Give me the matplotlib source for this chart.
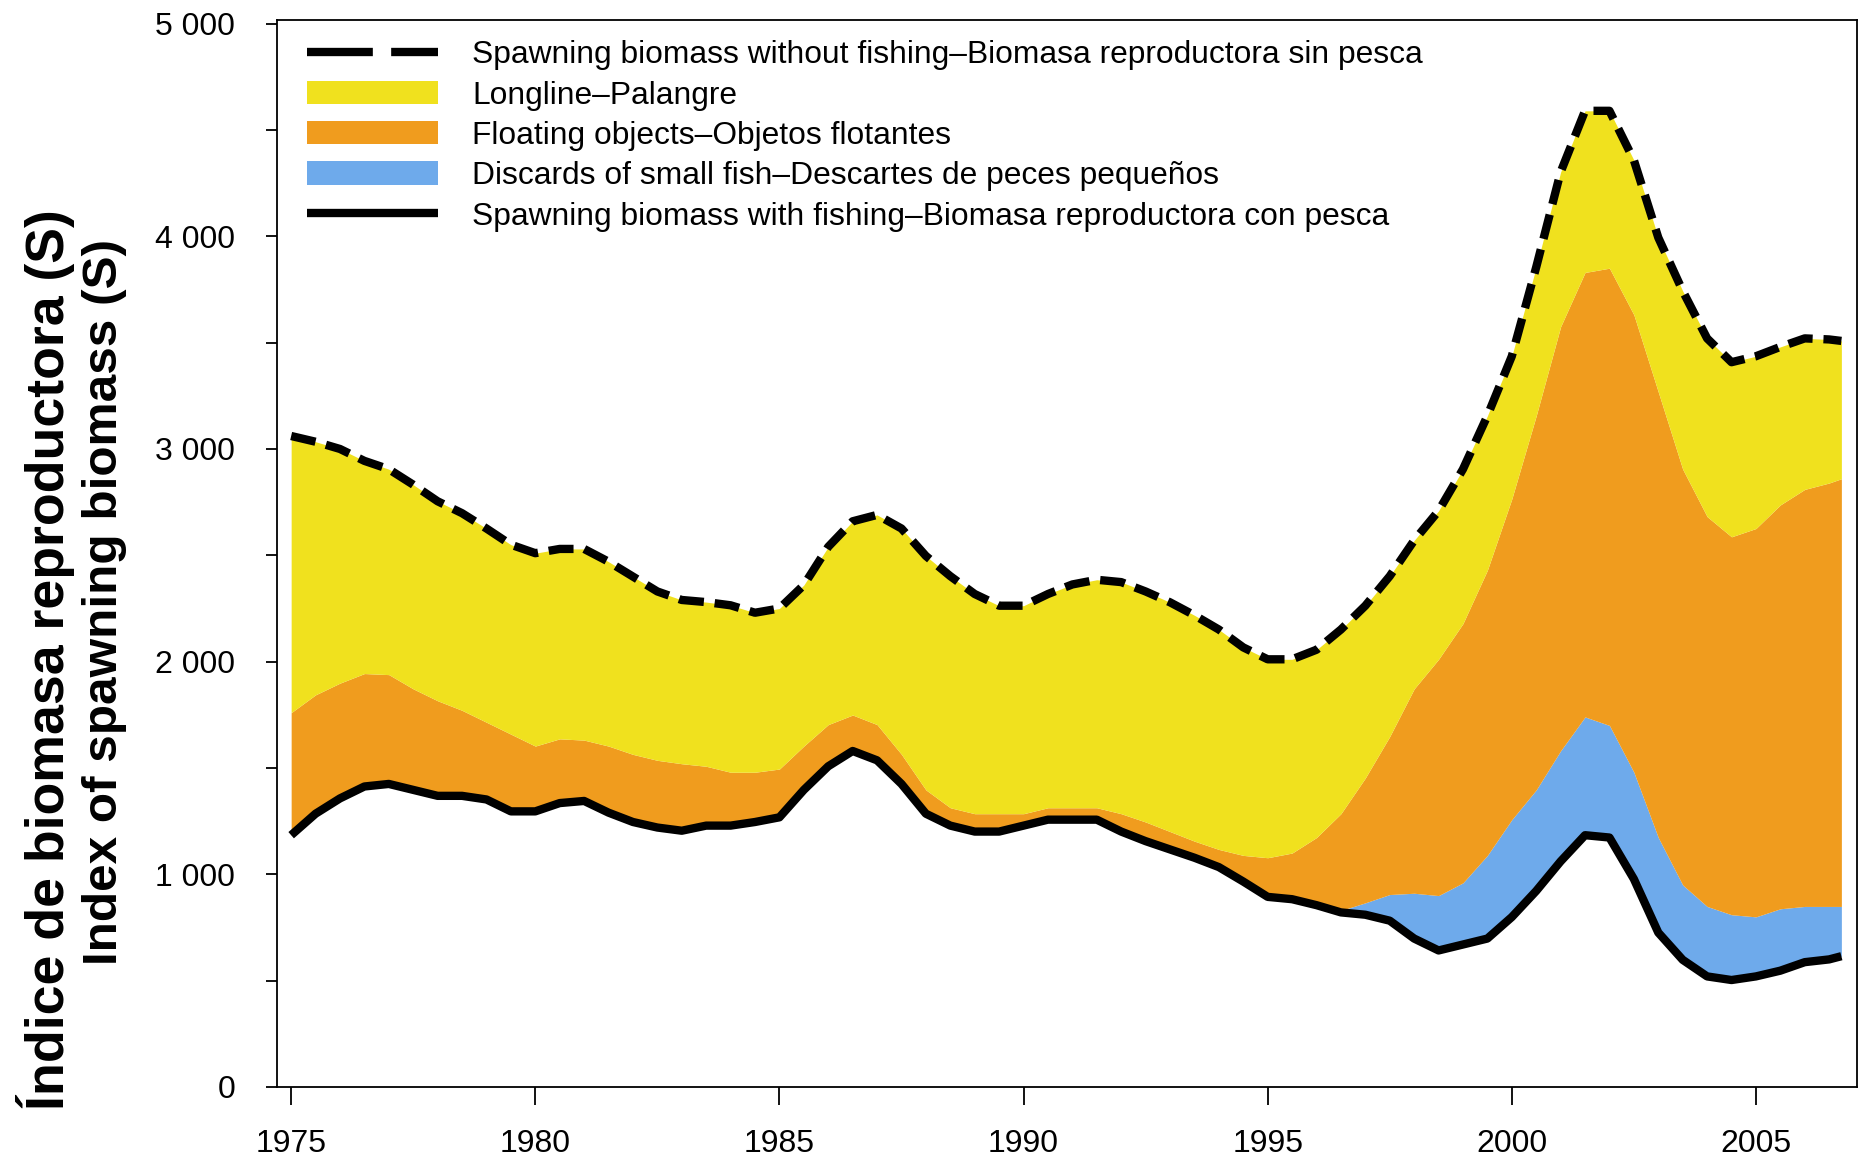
import numpy as np
import matplotlib
matplotlib.use("Agg")
import matplotlib.pyplot as plt
from matplotlib.lines import Line2D
from matplotlib.patches import Patch

# ---------------- data ----------------
years = [1975.0, 1975.5, 1976.0, 1976.5, 1977.0, 1977.5, 1978.0, 1978.5, 1979.0, 1979.5,
         1980.0, 1980.5, 1981.0, 1981.5, 1982.0, 1982.5, 1983.0, 1983.5, 1984.0, 1984.5,
         1985.0, 1985.5, 1986.0, 1986.5, 1987.0, 1987.5, 1988.0, 1988.5, 1989.0, 1989.5,
         1990.0, 1990.5, 1991.0, 1991.5, 1992.0, 1992.5, 1993.0, 1993.5, 1994.0, 1994.5,
         1995.0, 1995.5, 1996.0, 1996.5, 1997.0, 1997.5, 1998.0, 1998.5, 1999.0, 1999.5,
         2000.0, 2000.5, 2001.0, 2001.5, 2002.0, 2002.5, 2003.0, 2003.5, 2004.0, 2004.5,
         2005.0, 2005.5, 2006.0, 2006.5, 2006.75]

# spawning biomass with fishing (solid black line)
s_with_fishing = [1184, 1285, 1357, 1413, 1425, 1397, 1369, 1369, 1352, 1296,
                  1296, 1335, 1345, 1290, 1246, 1220, 1205, 1229, 1229, 1246,
                  1268, 1397, 1508, 1580, 1536, 1425, 1285, 1229, 1201, 1201,
                  1229, 1257, 1257, 1257, 1201, 1156, 1117, 1078, 1034, 966,
                  894, 883, 855, 821, 810, 782, 698, 642, 670, 698,
                  799, 922, 1061, 1184, 1173, 978, 726, 598, 520, 503,
                  520, 547, 587, 600, 615]

# upper edge of the discards (blue) band
top_discards = [1184, 1285, 1357, 1413, 1425, 1397, 1369, 1369, 1352, 1296,
                1296, 1335, 1345, 1290, 1246, 1220, 1205, 1229, 1229, 1246,
                1268, 1397, 1508, 1580, 1536, 1425, 1285, 1229, 1201, 1201,
                1229, 1257, 1257, 1257, 1201, 1156, 1117, 1078, 1034, 966,
                894, 883, 855, 830, 866, 905, 911, 900, 960, 1089,
                1257, 1397, 1581, 1740, 1700, 1480, 1173, 950, 849, 810,
                800, 838, 849, 849, 849]

# upper edge of the floating-object (orange) band
top_floating = [1760, 1844, 1899, 1944, 1939, 1872, 1816, 1771, 1715, 1659,
                1603, 1637, 1631, 1603, 1564, 1536, 1520, 1508, 1480, 1480,
                1495, 1603, 1704, 1749, 1704, 1564, 1397, 1313, 1285, 1285,
                1285, 1313, 1313, 1313, 1285, 1246, 1201, 1156, 1117, 1089,
                1078, 1100, 1173, 1285, 1453, 1648, 1872, 2011, 2179, 2430,
                2765, 3156, 3575, 3830, 3850, 3631, 3268, 2905, 2682, 2587,
                2626, 2737, 2810, 2840, 2860]

# spawning biomass without fishing (dashed line = top of longline band)
s_without_fishing = [3061, 3034, 3000, 2944, 2905, 2832, 2754, 2698, 2626, 2550,
                     2510, 2530, 2530, 2470, 2400, 2330, 2290, 2280, 2265, 2230,
                     2250, 2360, 2540, 2660, 2690, 2626, 2497, 2402, 2318, 2263,
                     2263, 2318, 2363, 2385, 2374, 2330, 2279, 2218, 2151, 2067,
                     2011, 2011, 2056, 2151, 2263, 2402, 2570, 2709, 2905, 3156,
                     3436, 3855, 4302, 4590, 4590, 4358, 3994, 3743, 3520, 3408,
                     3436, 3480, 3520, 3515, 3508]

x_ticks = [1975, 1980, 1985, 1990, 1995, 2000, 2005]
y_ticks = [0, 500, 1000, 1500, 2000, 2500, 3000, 3500, 4000, 4500, 5000]
y_ticklabels = ["0", "", "1 000", "", "2 000", "", "3 000", "", "4 000", "", "5 000"]

legend_labels = [
    "Spawning biomass without fishing\u2013Biomasa reproductora sin pesca",
    "Longline\u2013Palangre",
    "Floating objects\u2013Objetos flotantes",
    "Discards of small fish\u2013Descartes de peces peque\u00f1os",
    "Spawning biomass with fishing\u2013Biomasa reproductora con pesca",
]
ylabel_lines = ["\u00cdndice de biomasa reproductora (S)", "Index of spawning biomass (S)"]

# ---------------- styling ----------------
C_YELLOW = "#F0E11E"
C_ORANGE = "#F09C1E"
C_BLUE = "#6EAAEB"
FONT = "Liberation Sans"

W, H = 1866, 1164
fig = plt.figure(figsize=(W / 100, H / 100), dpi=100)
fig.patch.set_facecolor("white")
ax = fig.add_axes([277 / W, 1 - 1087 / H, (1857 - 277) / W, (1087 - 20) / H])


def fit_size(text, target_px, **kw):
    r = fig.canvas.get_renderer()
    t = fig.text(0, 0, text, fontsize=20, **kw)
    w = t.get_window_extent(r).width
    t.remove()
    return 20 * target_px / w


x = np.array(years)
ax.fill_between(x, s_with_fishing, top_discards, color=C_BLUE, lw=0)
ax.fill_between(x, top_discards, top_floating, color=C_ORANGE, lw=0)
ax.fill_between(x, top_floating, s_without_fishing, color=C_YELLOW, lw=0)

lw = 6.0
ax.plot(x, s_with_fishing, color="black", lw=lw, solid_capstyle="butt", solid_joinstyle="round")
ax.plot(x, s_without_fishing, color="black", lw=lw, dashes=(3.0, 1.3), dash_capstyle="butt")

ax.set_xlim(1974.71, 2007.07)
ax.set_ylim(0, 5017)

ax.set_xticks(x_ticks)
ax.set_xticklabels([str(v) for v in x_ticks])
ax.set_yticks(y_ticks)
ax.set_yticklabels(y_ticklabels)
ax.tick_params(axis="x", length=13, width=1.3, pad=17, labelsize=23)
ax.tick_params(axis="y", length=8, width=1.3, pad=22, labelsize=23)
for lab in ax.get_xticklabels() + ax.get_yticklabels():
    lab.set_fontfamily(FONT)
for sp in ax.spines.values():
    sp.set_linewidth(1.3)

# legend
leg_fs = fit_size(legend_labels[0], 948, family=FONT)
em = leg_fs * 100 / 72
handles = [
    Line2D([], [], color="black", lw=lw, dashes=(7.9, 2.2), dash_capstyle="butt"),
    Patch(facecolor=C_YELLOW, edgecolor="none"),
    Patch(facecolor=C_ORANGE, edgecolor="none"),
    Patch(facecolor=C_BLUE, edgecolor="none"),
    Line2D([], [], color="black", lw=lw, solid_capstyle="butt"),
]
row_h = 1.117 * em
leg = ax.legend(handles, legend_labels, loc="upper left",
                bbox_to_anchor=(307 / W, 1 - (58 - row_h / 2) / H),
                bbox_transform=fig.transFigure, frameon=False,
                prop={"family": FONT, "size": leg_fs},
                borderpad=0, borderaxespad=0,
                handlelength=131 / em, handleheight=24 / em,
                handletextpad=34 / em, labelspacing=(40.5 - row_h + 5.3) / em)

# y label (two bold lines)
yl1 = fit_size(ylabel_lines[0], 900, family=FONT, weight="bold")
yl2 = fit_size(ylabel_lines[1], 725, family=FONT, weight="bold")
fig.text(46 / W, 1 - 660 / H, ylabel_lines[0], rotation=90, ha="center", va="center",
         family=FONT, weight="bold", fontsize=yl1)
fig.text(105 / W, 1 - 602 / H, ylabel_lines[1], rotation=90, ha="center", va="center",
         family=FONT, weight="bold", fontsize=yl2)

fig.savefig("out.png", dpi=100)
